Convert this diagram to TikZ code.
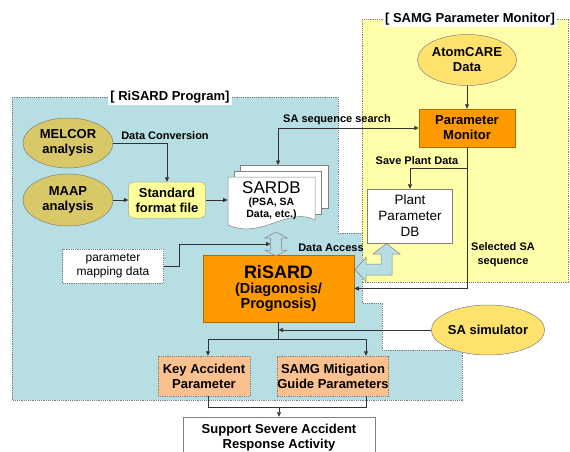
\documentclass[tikz,border=0pt]{standalone}
\usepackage{fontspec}
\setmainfont{Liberation Sans}
\usetikzlibrary{arrows.meta,positioning,shapes.geometric,calc}
\definecolor{rsblue}{RGB}{183,222,226}
\definecolor{smyellow}{RGB}{255,255,170}
\definecolor{rsolive}{RGB}{217,200,104}
\definecolor{rsgold}{RGB}{255,226,110}
\definecolor{rsorange}{RGB}{255,153,0}
\definecolor{rspeach}{RGB}{250,192,143}
\definecolor{rsfile}{RGB}{255,255,153}
\definecolor{rsline}{RGB}{50,50,50}
\definecolor{rsedge}{RGB}{128,128,128}

\begin{document}
\begin{tikzpicture}[x=1pt,y=-1pt,line width=0.6pt,
  region/.style={draw=rsedge, line width=0.5pt, dash pattern=on 1.2pt off 1pt},
  regtitle/.style={fill=white, inner sep=2pt, font=\fontsize{13}{15}\selectfont\bfseries},
  oval/.style={ellipse, draw=rsedge, line width=0.5pt, inner sep=0pt, align=center, font=\fontsize{13}{15}\selectfont\bfseries},
  blk/.style={draw=rsedge, line width=0.5pt, inner sep=0pt, align=center, font=\fontsize{13}{15}\selectfont\bfseries},
  dblk/.style={blk, dash pattern=on 1.2pt off 1pt},
  lbl/.style={inner sep=0pt, align=center, font=\fontsize{11}{14}\selectfont\bfseries},
  page/.style={draw=rsedge, line width=0.5pt, fill=white},
  hollow/.style={draw=rsedge, line width=0.5pt, fill=rsblue},
  arr/.style={draw=rsline, -{Triangle[length=4.5pt,width=4pt]}},
  dbl/.style={draw=rsline, {Triangle[length=4.5pt,width=4pt]}-{Triangle[length=4.5pt,width=4pt]}},
  ln/.style={draw=rsline}]
  \useasboundingbox (0,0) rectangle (570,452);

  \filldraw[region, fill=rsblue] (12,97) -- (338,97) -- (338,233) -- (362,233) -- (362,303) -- (382,303) -- (382,350) -- (462,350) -- (462,400) -- (12,400) -- cycle;
  \filldraw[region, fill=smyellow] (362,19) rectangle (568,282);
  \node[regtitle] (rstitle) at (170,97) {[ RiSARD Program]};
  \node[regtitle] (smtitle) at (470,19) {[ SAMG Parameter Monitor]};

  \node[oval, fill=rsolive, minimum width=90pt, minimum height=50pt] (melcor) at (68,143) {MELCOR\\analysis};
  \node[oval, fill=rsolive, minimum width=90pt, minimum height=52pt] (maap) at (68,200) {MAAP\\analysis};
  \node[dblk, fill=rsfile, rounded corners=5pt, minimum width=77pt, minimum height=36pt] (stdfile) at (167,200) {Standard\\format file};
  \node[lbl] (dconv) at (165,136) {Data Conversion};

  \filldraw[page] (240,165) rectangle (328,208);
  \filldraw[page] (234,171) rectangle (321,214);
  \filldraw[page] (228,177) -- (315,177) -- (315,220) .. controls (288,206) and (262,240) .. (228,225) -- cycle;
  \node[inner sep=0pt, align=center, minimum width=87pt, minimum height=47pt] (sardb) at (271.5,200.5)
    {{\fontsize{17}{16}\selectfont SARDB}\\{\fontsize{10.5}{14}\selectfont\bfseries (PSA, SA}\\{\fontsize{10.5}{13}\selectfont\bfseries Data, etc.)}};
  \coordinate (sardbtop) at (278,165);

  \node[oval, fill=rsgold, minimum width=90pt, minimum height=51pt] (atom) at (467,60) {AtomCARE\\Data};
  \node[blk, fill=rsorange, draw=rsorange!70!black, minimum width=96pt, minimum height=38pt] (pmon) at (467,128) {Parameter\\Monitor};
  \node[blk, fill=white, font=\fontsize{13.5}{16}\selectfont, minimum width=85pt, minimum height=54pt] (ppdb) at (410,216) {Plant\\Parameter\\DB};
  \node[lbl] (seqsearch) at (337,120) {SA sequence search};
  \node[lbl] (saveplant) at (417,161) {Save Plant Data};
  \node[lbl] (selseq) at (503,255) {Selected SA\\sequence};

  \node[blk, fill=rsorange, draw=rsorange!70!black, minimum width=151pt, minimum height=67pt] (risard) at (278.5,288.5)
    {{\fontsize{18}{17}\selectfont RiSARD}\\{\fontsize{14.5}{16}\selectfont (Diagonosis/}\\{\fontsize{14.5}{16}\selectfont Prognosis)}};
  \node[dblk, fill=white, font=\fontsize{12}{14}\selectfont, minimum width=101pt, minimum height=34pt] (pmap) at (113,266) {parameter\\mapping data};
  \node[lbl] (daccess) at (331,248) {Data Access};
  \node[oval, fill=rsgold, minimum width=88pt, minimum height=50pt] (sasim) at (488,330) {SA simulator};

  \node[dblk, fill=rspeach, minimum width=92pt, minimum height=40pt] (kap) at (204,376) {Key Accident\\Parameter};
  \node[dblk, fill=rspeach, minimum width=92pt, minimum height=40pt] (samg) at (333,376) {SAMG Mitigation\\Guide Parameters};
  \node[blk, fill=white, minimum width=192pt, minimum height=42pt] (support) at (279,438) {Support Severe Accident\\Response Activity};

  \filldraw[hollow] (276,232) -- (287,238) -- (281.5,238) -- (281.5,250) -- (287,250) -- (276,256) -- (265,250) -- (270.5,250) -- (270.5,238) -- (265,238) -- cycle;
  \coordinate (dacc) at (270.5,244);
  \filldraw[hollow] (355,269.5) -- (366,257.5) -- (366,264) -- (381,264) -- (381,254) -- (373,254) -- (386.5,243.5) -- (400,254) -- (392,254) -- (392,275) -- (366,275) -- (366,281.5) -- cycle;

  \draw[arr] (melcor.east) -| (stdfile.north);
  \draw[arr] (maap) -- (stdfile);
  \draw[arr] (stdfile.east) -- (sardb.west |- stdfile.east);
  \draw[dbl] (sardbtop) |- (pmon.west);
  \draw[arr] (atom) -- (pmon);
  \draw[arr] (pmon.south) -- ++(0,21) -| (ppdb.north);
  \draw[arr] (pmon.south) |- (risard.east);
  \draw[arr] (pmap.east) -- ++(16,0) |- (dacc);
  \draw[ln] (risard.south) -- ++(0,17) coordinate (split);
  \draw[arr] (sasim.west) -- (sasim.west -| risard.south);
  \draw[arr] (split) -| ([xshift=4pt]kap.north);
  \draw[arr] (split) -| ([xshift=33pt]samg.north);
  \draw[ln] ([xshift=4pt]kap.south) -- ++(0,11) coordinate (kapbot) -| ([xshift=33pt]samg.south);
  \draw[arr] (kapbot -| support.north) -- (support.north);
\end{tikzpicture}
\end{document}
